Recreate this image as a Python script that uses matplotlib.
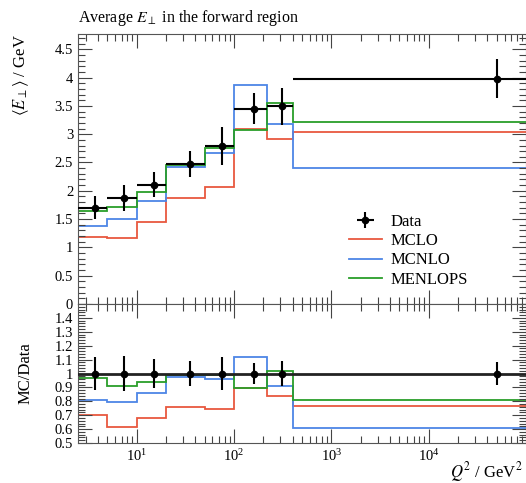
import numpy as np
import matplotlib.pyplot as plt
from matplotlib.ticker import MultipleLocator, FixedLocator, LogLocator, NullFormatter, FuncFormatter

# Q^2 bin edges (GeV^2)
edges = [2.5, 5, 10, 20, 50, 100, 220, 400, 1e5]

# measured <E_perp> and uncertainties (GeV)
data_val = [1.70, 1.88, 2.11, 2.48, 2.79, 3.45, 3.49, 3.98]
data_err = [0.20, 0.23, 0.22, 0.23, 0.34, 0.27, 0.32, 0.34]

# generator predictions (GeV)
mclo = [1.19, 1.16, 1.44, 1.88, 2.07, 3.09, 2.92, 3.04]
mcnlo = [1.37, 1.50, 1.82, 2.42, 2.67, 3.87, 3.18, 2.41]
menlops = [1.64, 1.71, 1.98, 2.46, 2.75, 3.08, 3.55, 3.22]

labels = ["MCLO", "MCNLO", "MENLOPS"]
colors = ["#e8583f", "#4d86e6", "#2a9e2a"]
xmajor = [10, 100, 1000, 10000]


def style_axis(ax, ymaj, ymin):
    ax.set_xscale("log")
    ax.set_xlim(edges[0], edges[-1])
    ax.xaxis.set_major_locator(FixedLocator(xmajor))
    ax.xaxis.set_minor_locator(LogLocator(base=10, subs=np.arange(2, 10), numticks=20))
    ax.xaxis.set_minor_formatter(NullFormatter())
    ax.yaxis.set_major_locator(MultipleLocator(ymaj))
    ax.yaxis.set_minor_locator(MultipleLocator(ymin))
    ax.yaxis.set_major_formatter(FuncFormatter(lambda v, p: "%g" % round(v, 2)))
    ax.tick_params(which="both", direction="in", top=True, right=True,
                   width=0.8, colors="#444444", labelcolor="black", labelsize=10.5)
    ax.tick_params(which="major", length=10)
    ax.tick_params(which="minor", length=5)
    for s in ax.spines.values():
        s.set_color("#555555")
        s.set_linewidth(0.8)


def main():
    plt.rcParams["font.family"] = ["Liberation Serif", "DejaVu Serif"]
    plt.rcParams["mathtext.fontset"] = "stix"

    fig = plt.figure(figsize=(5.26, 4.83), dpi=100)
    ax = fig.add_axes([0.1483, 0.3706, 0.852, 0.559])
    rax = fig.add_axes([0.1483, 0.0828, 0.852, 0.2878], sharex=ax)

    e = np.array(edges)
    lo, hi = e[:-1], e[1:]
    xc = 0.5 * (lo + hi)
    d = np.array(data_val)
    de = np.array(data_err)

    # main panel
    for vals, lab, col in zip([mclo, mcnlo, menlops], labels, colors):
        ax.stairs(vals, edges, baseline=None, color=col, lw=1.3, label=lab)
    ax.errorbar(xc, d, yerr=de, xerr=[xc - lo, hi - xc], fmt="o", color="black",
                ms=4.5, lw=1.5, capsize=0, label="Data", zorder=5)
    style_axis(ax, 0.5, 0.1)
    ax.set_ylim(0, 4.77)
    ax.tick_params(labelbottom=False)
    ax.set_ylabel(r"$\langle E_\perp \rangle$ / GeV", fontsize=12, loc="top")
    ax.yaxis.set_label_coords(-0.105, 1.0)
    ax.set_title(r"Average $E_\perp$ in the forward region", loc="left",
                 fontsize=11.5, pad=9)

    h, l = ax.get_legend_handles_labels()
    order = [3, 0, 1, 2]
    ax.legend([h[i] for i in order], [l[i] for i in order], loc="upper left",
              bbox_to_anchor=(0.585, 0.365), frameon=False, fontsize=12,
              handlelength=2.0, handletextpad=0.5, labelspacing=0.2, borderpad=0)

    # ratio panel
    rax.axhline(1.0, color="#222222", lw=2, zorder=4)
    for vals, col in zip([mclo, mcnlo, menlops], colors):
        rax.stairs(np.array(vals) / d, edges, baseline=None, color=col, lw=1.3)
    rax.errorbar(xc, np.ones_like(d), yerr=de / d, fmt="o", color="black",
                 ms=4.5, lw=1.5, capsize=0, zorder=5)
    style_axis(rax, 0.1, 0.02)
    rax.set_ylim(0.5, 1.5)
    rax.set_yticks(np.round(np.arange(0.5, 1.41, 0.1), 1))
    rax.set_ylabel("MC/Data", fontsize=12)
    rax.yaxis.set_label_coords(-0.1, 0.5)
    rax.set_xlabel(r"$Q^2$ / GeV$^2$", fontsize=12)
    rax.xaxis.set_label_coords(0.993, -0.12)
    rax.xaxis.label.set_horizontalalignment("right")
    rax.xaxis.label.set_verticalalignment("top")

    fig.savefig("out.png", dpi=100)


if __name__ == "__main__":
    main()
